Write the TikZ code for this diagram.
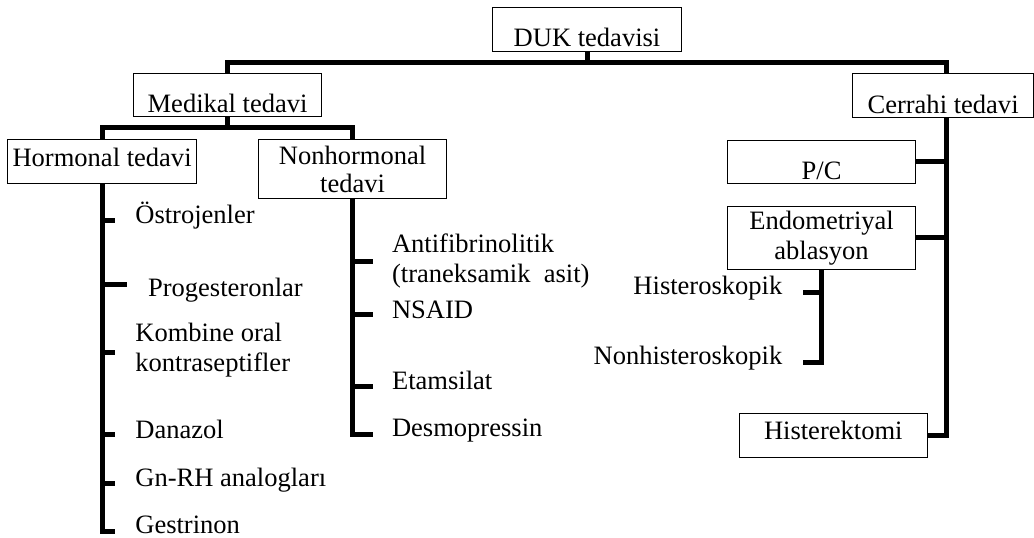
\documentclass[tikz,border=0pt]{standalone}
\usepackage{fontspec}
\setmainfont{Liberation Serif}
\begin{document}
\begin{tikzpicture}[
    x=0.2mm, y=-0.2mm,
    every node/.style={font=\fontsize{15.1}{17}\selectfont},
    box/.style={draw, line width=0.6pt, inner sep=0pt, anchor=north west, align=center},
    item/.style={inner sep=0pt, anchor=base west, align=left},
    branch/.style={line width=1mm}
]
    \useasboundingbox (0,0) rectangle (1034,538);

    % boxes
    \node[box, minimum width=37.8mm, text height=7.74mm, text depth=0.94mm] (duk) at (492,7.3) {DUK tedavisi};
    \node[box, minimum width=37.5mm, text height=7.8mm, text depth=0.8mm] (medikal) at (133.3,72.7) {Medikal tedavi};
    \node[box, minimum width=36.1mm, text height=7.84mm, text depth=0.84mm] (cerrahi) at (852.3,73.3) {Cerrahi tedavi};
    \node[box, minimum width=37.7mm, text height=5.34mm, text depth=3.34mm] (hormonal) at (7.3,139.3) {Hormonal tedavi};
    \node[box, minimum width=37.5mm, minimum height=11.8mm, font=\fontsize{15.1}{16.3}\selectfont] (nonhormonal) at (258.3,139.3) {Nonhormonal\\tedavi};
    \node[box, minimum width=37.5mm, text height=7.86mm, text depth=0.68mm] (pc) at (727.3,140) {P/C};
    \node[box, minimum width=37.5mm, minimum height=12.54mm] (endo) at (727.3,206) {Endometriyal\\ablasyon};
    \node[box, minimum width=37.5mm, text height=5.14mm, text depth=3.72mm] (histerektomi) at (739,413) {Histerektomi};

    % hormonal
    \node[item] (ostro) at (135,223.3) {Östrojenler};
    \node[item] (proges) at (147.7,296.7) {Progesteronlar};
    \node[item, anchor=north west] (kombine) at (135,322.6) {Kombine oral\\kontraseptifler};
    \node[item] (danazol) at (135,438.7) {Danazol};
    \node[item] (gnrh) at (135,486.3) {Gn-RH analogları};
    \node[item] (gestrinon) at (135,533.7) {Gestrinon};

    % nonhormonal
    \node[item, anchor=north west] (anti) at (391.7,233.9) {Antifibrinolitik\\(traneksamik\ \ asit)};
    \node[item] (nsaid) at (391.7,318.3) {NSAID};
    \node[item] (etam) at (391.7,389.7) {Etamsilat};
    \node[item] (desmo) at (391.7,436.3) {Desmopressin};

    % ablasyon
    \node[item, anchor=base east] (histeros) at (782.7,295) {Histeroskopik};
    \node[item, anchor=base east] (nonhisteros) at (782.7,365) {Nonhisteroskopik};

    % branches
    \coordinate (spine) at (946.5,0);
    \draw[branch] (duk.south) -- ++(0,11) coordinate (bar);
    \draw[branch] (medikal.north) |- (bar) -| (spine |- cerrahi.north);
    \draw[branch] (spine |- cerrahi.south) |- (histerektomi.east);
    \draw[branch] (pc.east) -- (pc.east -| spine);
    \draw[branch] (endo.east) -- (endo.east -| spine);

    \draw[branch] (medikal.south) -- ++(0,11) coordinate (bar2);
    \draw[branch] (hormonal.north) |- (bar2) -| (nonhormonal.north);

    \draw[branch] (hormonal.south) |- (115,531.3);
    \foreach \y/\e in {221/115, 285/127, 353/115, 434.7/115, 484/115}
        \draw[branch] (hormonal.south |- 0,\y) -- (\e,\y);

    \draw[branch] (nonhormonal.south) |- (373.3,434.7);
    \foreach \y in {262, 314.7, 386.3}
        \draw[branch] (nonhormonal.south |- 0,\y) -- (373.3,\y);

    \draw[branch] (endo.south) |- (803.3,363);
    \draw[branch] (endo.south |- 0,292.5) -- (803.3,292.5);

\end{tikzpicture}
\end{document}
